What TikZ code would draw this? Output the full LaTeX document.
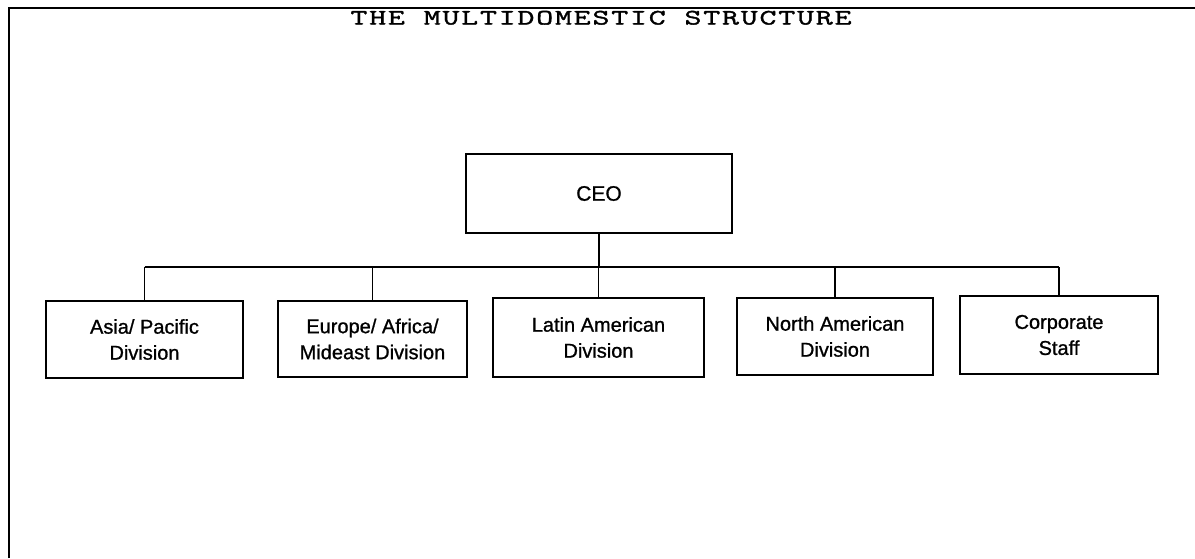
\documentclass[tikz,border=0pt]{standalone}
\usepackage{fontspec}
\setmainfont{Liberation Sans}[FakeBold=1.0]
\newfontfamily\titlefont{Latin Modern Mono}[FakeStretch=1.5,LetterSpace=8,FakeBold=1.6]
\begin{document}
\begin{tikzpicture}[x=1pt,y=-1pt,
  unitbox/.style={draw,line width=1.8pt,inner sep=0pt,align=center,
    font=\fontsize{20}{26}\selectfont},
  link/.style={line width=1.7pt},
  frame/.style={line width=2pt}]
\useasboundingbox (0,0) rectangle (1195,558);
% open frame: top rule and left rule
\coordinate (frameTL) at (9,8);
\coordinate (frameTR) at (1195,8);
\coordinate (frameBL) at (9,558);
\draw[frame] (frameBL) -- (frameTL) -- (frameTR);
% title
\node[font=\titlefont\fontsize{22}{24}\selectfont,anchor=base] (title) at (601,24.5) {THE MULTIDOMESTIC STRUCTURE};
% top box
\node[unitbox,minimum width=266pt,minimum height=79pt,font=\fontsize{21}{26}\selectfont] (ceo) at (599,193.5) {CEO};
% divisions
\node[unitbox,minimum width=197pt,minimum height=77pt] (asia) at (144.5,339.5) {Asia/ Pacific\\Division};
\node[unitbox,minimum width=189pt,minimum height=76pt] (europe) at (372.5,339) {Europe/ Africa/\\Mideast Division};
\node[unitbox,minimum width=211pt,minimum height=79pt] (latin) at (598.5,337.5) {Latin American\\Division};
\node[unitbox,minimum width=196pt,minimum height=77pt] (north) at (835,336.5) {North American\\Division};
\node[unitbox,minimum width=198pt,minimum height=78pt] (corp) at (1059,335) {Corporate\\Staff};
% reporting lines
\coordinate (bus) at (600,267);
\draw[link] (ceo.south) -- (ceo.south |- bus);
\draw[link] (asia.north |- bus) -- (corp.north |- bus);
\foreach \n in {asia,europe,latin,north,corp}
  \draw[link] (\n.north) -- (\n.north |- bus);
\end{tikzpicture}
\end{document}
